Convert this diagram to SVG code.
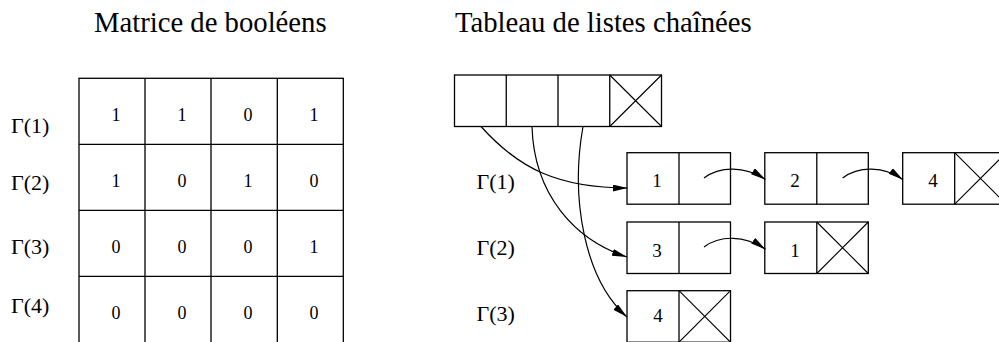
<svg xmlns="http://www.w3.org/2000/svg" width="999" height="342" viewBox="0 0 999 342">
<defs>
<style>
.t{font-family:"Liberation Serif","Times New Roman",serif;fill:#000}
.title{font-size:28.7px}
.g{font-size:22px}
.d{font-size:18px;text-anchor:middle}
.dl{font-size:19px;text-anchor:middle}
.box{fill:#fff;stroke:#000;stroke-width:1.3}
.ln{stroke:#000;stroke-width:1.3;fill:none}
.x{stroke:#000;stroke-width:1.1;fill:none}
.c{stroke:#000;stroke-width:1.2;fill:none;marker-end:url(#ah)}
</style>
<marker id="ah" markerUnits="userSpaceOnUse" markerWidth="15" markerHeight="8" refX="15" refY="3.5" orient="auto">
<path d="M0,0 L15,3.5 L0,7 z" fill="#000"/>
</marker>
</defs>
<rect width="999" height="342" fill="#fff"/>
<text class="t title" x="94" y="31.7">Matrice de booléens</text>
<text class="t title" x="455" y="31.7">Tableau de listes chaînées</text>

<g id="matrix">
<rect class="box" x="79" y="78.3" width="264.3" height="270"/>
<path class="ln" d="M145,78.3 V342 M211,78.3 V342 M277.3,78.3 V342 M79,144.3 H343.3 M79,210.3 H343.3 M79,276.3 H343.3"/>
<g class="t d">
<text x="116" y="121">1</text><text x="182" y="121">1</text><text x="248" y="121">0</text><text x="314" y="121">1</text>
<text x="116" y="187">1</text><text x="182" y="187">0</text><text x="248" y="187">1</text><text x="314" y="187">0</text>
<text x="116" y="253">0</text><text x="182" y="253">0</text><text x="248" y="253">0</text><text x="314" y="253">1</text>
<text x="116" y="319">0</text><text x="182" y="319">0</text><text x="248" y="319">0</text><text x="314" y="319">0</text>
</g>
</g>
<g id="matrix-labels" class="t g">
<text x="11" y="133">Γ(1)</text>
<text x="11" y="190">Γ(2)</text>
<text x="11" y="254">Γ(3)</text>
<text x="11" y="313">Γ(4)</text>
</g>

<g id="array">
<rect class="box" x="454.5" y="75" width="207" height="51.5"/>
<path class="ln" d="M506.25,75 V126.5 M558,75 V126.5 M609.75,75 V126.5"/>
<path class="x" d="M609.75,75 L661.5,126.5 M661.5,75 L609.75,126.5"/>
</g>

<g id="list-labels" class="t g">
<text x="476.5" y="189">Γ(1)</text>
<text x="476.5" y="255">Γ(2)</text>
<text x="476.5" y="321">Γ(3)</text>
</g>

<g id="n1-1">
<rect class="box" x="627" y="152.7" width="103.5" height="51.5"/>
<path class="ln" d="M679,152.7 V204.2"/>
<text class="t dl" x="657" y="187">1</text>
</g>
<g id="n1-2">
<rect class="box" x="764.8" y="152.7" width="103.5" height="51.5"/>
<path class="ln" d="M816.8,152.7 V204.2"/>
<text class="t dl" x="795" y="187">2</text>
</g>
<g id="n1-3">
<rect class="box" x="902.7" y="152.7" width="103.5" height="51.5"/>
<path class="ln" d="M954.7,152.7 V204.2"/>
<path class="x" d="M954.7,152.7 L1006.2,204.2 M1006.2,152.7 L954.7,204.2"/>
<text class="t dl" x="933" y="187">4</text>
</g>
<g id="n2-1">
<rect class="box" x="627" y="222" width="103.5" height="51.5"/>
<path class="ln" d="M679,222 V273.5"/>
<text class="t dl" x="657" y="256.5">3</text>
</g>
<g id="n2-2">
<rect class="box" x="764.8" y="222" width="103.5" height="51.5"/>
<path class="ln" d="M816.8,222 V273.5"/>
<path class="x" d="M816.8,222 L868.3,273.5 M868.3,222 L816.8,273.5"/>
<text class="t dl" x="795" y="256.5">1</text>
</g>
<g id="n3-1">
<rect class="box" x="627" y="290.7" width="103.5" height="51.5"/>
<path class="ln" d="M679,290.7 V342.2"/>
<path class="x" d="M679,290.7 L730.5,342.2 M730.5,290.7 L679,342.2"/>
<text class="t dl" x="658" y="322">4</text>
</g>

<g id="connectors">
<path class="c" d="M481,126.5 C520,170 560,188 627.5,188"/>
<path class="c" d="M532,126.5 C534,195 575,240 627,257"/>
<path class="c" d="M583,126.5 C570,200 585,280 627,317"/>
<path class="c" d="M704,178 C720,166 745,166 765.5,179.5"/>
<path class="c" d="M842.7,178 C858.7,166 883.7,166 903,179.7"/>
<path class="c" d="M704,247 C720,235 745,235 765.5,249.3"/>
</g>
</svg>
